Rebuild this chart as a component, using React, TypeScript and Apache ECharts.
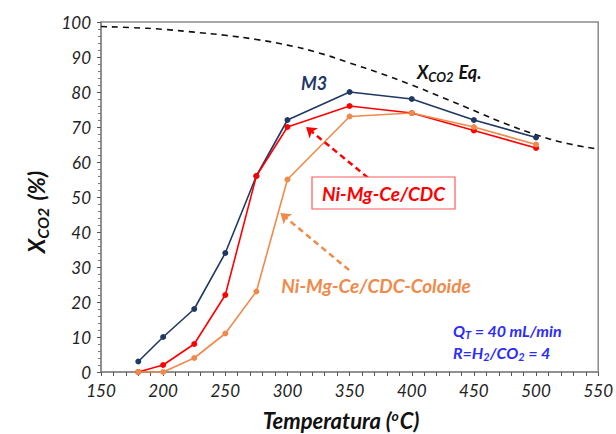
import React, { useEffect, useRef } from "react";
import * as echarts from "echarts";

const temps = [180, 200, 225, 250, 275, 300, 350, 400, 450, 500];
const m3 = [3, 10, 18, 34, 56, 72, 80, 78, 72, 67];
const cdc = [0, 2, 8, 22, 56, 70, 76, 74, 69, 64];
const coloide = [0, 0, 4, 11, 23, 55, 73, 74, 70, 65];
const eqTemps = [150, 175, 200, 225, 250, 275, 300, 325, 350, 375, 400, 425, 450, 475, 500, 525, 550];
const eqVals = [98.7, 98.4, 97.9, 97.1, 96.2, 95.0, 93.4, 91.2, 88.3, 85.3, 82.0, 78.4, 74.7, 71.0, 67.8, 65.3, 63.7];
const redArrow = [[371, 53.7], [315, 70]];
const orangeArrow = [[349.6, 29.1], [294.3, 45.4]];

const NAVY = "#1F3864";
const RED = "#FF0000";
const ORANGE = "#F08A4B";
const BLUE = "#2B2BFF";
const FONT = "Lato";

export default function App() {
  const ref = useRef<HTMLDivElement>(null);
  useEffect(() => {
    const chart = echarts.init(ref.current!, null, { renderer: "svg" });
    const pair = (xs: number[], ys: number[]) => xs.map((x, i) => [x, ys[i]]);
    const lineSeries = (name: string, data: number[], color: string) => ({
      name,
      type: "line",
      data: pair(temps, data),
      symbol: "circle",
      symbolSize: 6,
      itemStyle: { color },
      lineStyle: { color, width: 1.6 },
      z: 3,
    });
    const arrow = (pts: number[][], color: string) => ({
      silent: true,
      symbol: ["none", "arrow"],
      symbolSize: 10,
      label: { show: false },
      itemStyle: { color },
      lineStyle: { color, type: [6, 4], width: 2.5 },
      data: [[{ coord: pts[0] }, { coord: pts[1] }]],
    });
    const labelStyle = { fontFamily: FONT, fontStyle: "italic", fontSize: 17, color: "#222" };
    chart.setOption({
      animation: false,
      grid: { left: 101, right: 16, top: 22, bottom: 62, show: true, borderColor: "#8a8a8a", borderWidth: 1.5 },
      xAxis: {
        type: "value",
        min: 150,
        max: 550,
        interval: 50,
        axisLine: { show: true, lineStyle: { color: "#8a8a8a", width: 1.5 } },
        axisTick: { show: true, length: 4, inside: false, lineStyle: { color: "#555" } },
        minorTick: { show: true, splitNumber: 5, length: 4, lineStyle: { color: "#555" } },
        splitLine: { show: false },
        axisLabel: { ...labelStyle, margin: 10 },
      },
      yAxis: {
        type: "value",
        min: 0,
        max: 100,
        interval: 10,
        axisLine: { show: true, lineStyle: { color: "#8a8a8a", width: 1.5 } },
        axisTick: { show: true, length: 4, lineStyle: { color: "#555" } },
        minorTick: { show: true, splitNumber: 5, length: 3, lineStyle: { color: "#777" } },
        splitLine: { show: false },
        axisLabel: { ...labelStyle, margin: 10 },
      },
      series: [
        {
          name: "Eq",
          type: "line",
          data: pair(eqTemps, eqVals),
          smooth: true,
          symbol: "none",
          lineStyle: { color: "#111", width: 1.6, type: [6, 5] },
          z: 2,
        },
        lineSeries("M3", m3, NAVY),
        { ...lineSeries("Ni-Mg-Ce/CDC", cdc, RED), markLine: arrow(redArrow, RED) },
        { ...lineSeries("Ni-Mg-Ce/CDC-Coloide", coloide, ORANGE), markLine: arrow(orangeArrow, ORANGE) },
      ],
      graphic: [
        {
          type: "text",
          x: 314,
          y: 83,
          style: { text: "M3", fill: NAVY, font: `italic bold 18px ${FONT}`, align: "center", verticalAlign: "middle" },
        },
        {
          type: "text",
          x: 417,
          y: 72,
          style: {
            text: "X{sub|CO2} Eq.",
            fill: "#111",
            font: `italic bold 18px ${FONT}`,
            verticalAlign: "middle",
            rich: { sub: { fontSize: 13, fontStyle: "italic", fontWeight: "bold", fontFamily: FONT, padding: [10, 1, 0, 0] } },
          },
        },
        {
          type: "rect",
          shape: { x: 312, y: 177, width: 143, height: 32 },
          style: { fill: "#fff", stroke: "#FF5A5A", lineWidth: 1.2 },
          z: 10,
        },
        {
          type: "text",
          x: 383.5,
          y: 193,
          z: 11,
          style: { text: "Ni-Mg-Ce/CDC", fill: RED, font: `italic bold 19px ${FONT}`, align: "center", verticalAlign: "middle" },
        },
        {
          type: "text",
          x: 376,
          y: 285,
          style: { text: "Ni-Mg-Ce/CDC-Coloide", fill: ORANGE, font: `italic bold 19px ${FONT}`, align: "center", verticalAlign: "middle" },
        },
        {
          type: "text",
          x: 453,
          y: 330,
          style: {
            text: "Q{sub|T} = 40 mL/min",
            fill: BLUE,
            font: `italic bold 16px ${FONT}`,
            verticalAlign: "middle",
            rich: { sub: { fontSize: 11, fontStyle: "italic", fontWeight: "bold", fontFamily: FONT, padding: [8, 0, 0, 0] } },
          },
        },
        {
          type: "text",
          x: 453,
          y: 352,
          style: {
            text: "R=H{sub|2}/CO{sub|2} = 4",
            fill: BLUE,
            font: `italic bold 16px ${FONT}`,
            verticalAlign: "middle",
            rich: { sub: { fontSize: 11, fontStyle: "italic", fontWeight: "bold", fontFamily: FONT, padding: [8, 0, 0, 0] } },
          },
        },
        {
          type: "text",
          x: 341,
          y: 420,
          style: {
            text: "Temperatura ({sup|o}C)",
            fill: "#111",
            font: `italic bold 22px ${FONT}`,
            align: "center",
            verticalAlign: "middle",
            rich: { sup: { fontSize: 14, fontStyle: "italic", fontWeight: "bold", fontFamily: FONT, padding: [0, 1, 10, 0] } },
          },
        },
        {
          type: "text",
          x: 36,
          y: 212,
          rotation: Math.PI / 2,
          style: {
            text: "X{sub|CO2} (%)",
            fill: "#111",
            font: `italic bold 23px ${FONT}`,
            align: "center",
            verticalAlign: "middle",
            rich: { sub: { fontSize: 16, fontStyle: "italic", fontWeight: "bold", fontFamily: FONT, padding: [12, 2, 0, 0] } },
          },
        },
      ],
    });
    return () => chart.dispose();
  }, []);
  return <div ref={ref} style={{ width: 616, height: 434, position: "absolute", left: 0, top: 0 }} />;
}
